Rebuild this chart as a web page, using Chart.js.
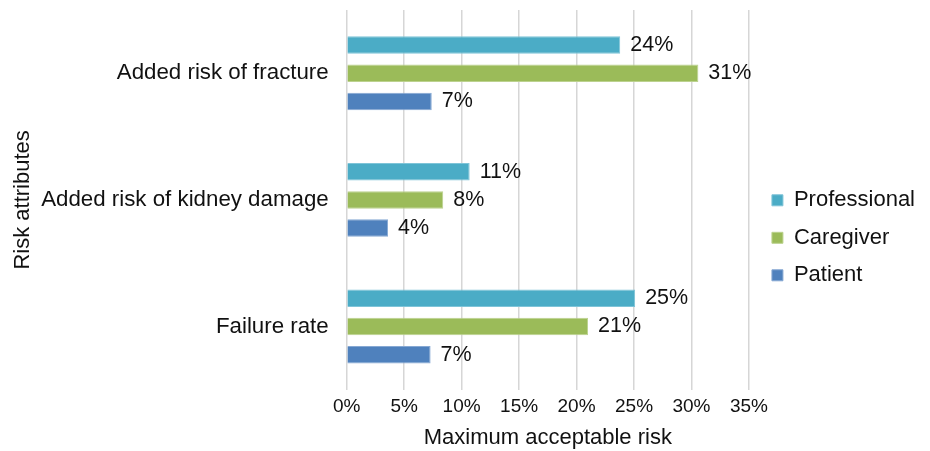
<!DOCTYPE html>
<html>
<head>
<meta charset="utf-8">
<script src="https://cdn.jsdelivr.net/npm/chart.js@4"></script>
<style>
  html, body { margin: 0; padding: 0; background: #fff; }
  #wrap { width: 930px; height: 451px; }
</style>
</head>
<body>
<div id="wrap"><canvas id="riskChart"></canvas></div>
<script>
const categories = ["Added risk of fracture", "Added risk of kidney damage", "Failure rate"];
const professional = [23.8, 10.7, 25.1];
const caregiver = [30.6, 8.4, 21.0];
const patient = [7.4, 3.6, 7.3];
const xMin = 0;
const xMax = 35;
const xStep = 5;

const font = '"Liberation Sans", Arial, sans-serif';
const textColor = "#111";

// writes the "24%" style labels just right of each bar
const valueLabels = {
  id: "valueLabels",
  afterDatasetsDraw(chart) {
    const ctx = chart.ctx;
    ctx.save();
    ctx.font = "21.5px " + font;
    ctx.fillStyle = textColor;
    ctx.textAlign = "left";
    ctx.textBaseline = "middle";
    chart.data.datasets.forEach((ds, i) => {
      chart.getDatasetMeta(i).data.forEach((bar, j) => {
        ctx.fillText(Math.round(ds.data[j]) + "%", bar.x + 10, bar.y);
      });
    });
    ctx.restore();
  },
};

const data = {
  labels: categories,
  datasets: [
    {
      label: "Professional",
      data: professional,
      backgroundColor: "#4BACC6",
      borderColor: "#7fc4d8",
      borderWidth: 1,
    },
    {
      label: "Caregiver",
      data: caregiver,
      backgroundColor: "#9BBB59",
      borderColor: "#bcd28f",
      borderWidth: 1,
    },
    {
      label: "Patient",
      data: patient,
      backgroundColor: "#4F81BD",
      borderColor: "#86a8d3",
      borderWidth: 1,
    },
  ],
};

const config = {
  type: "bar",
  data: data,
  plugins: [valueLabels],
  options: {
    indexAxis: "y",
    responsive: true,
    maintainAspectRatio: false,
    animation: false,
    categoryPercentage: 0.668,
    barPercentage: 0.62,
    layout: { padding: { top: 10, right: 5, bottom: 0, left: 0 } },
    plugins: {
      tooltip: { enabled: false },
      legend: {
        position: "right",
        maxWidth: 300,
        title: { display: true, text: " ", font: { size: 8 }, padding: { top: 2.5, bottom: 2.5 } },
        labels: {
          boxWidth: 11,
          boxHeight: 11,
          padding: 15.5,
          color: textColor,
          font: { family: font, size: 22 },
        },
      },
    },
    scales: {
      x: {
        min: xMin,
        max: xMax,
        grid: { color: "#d6d6d6", lineWidth: 1.5, drawTicks: false },
        border: { display: false },
        ticks: {
          stepSize: xStep,
          padding: 6,
          color: textColor,
          font: { family: font, size: 19 },
          callback: (v) => v + "%",
        },
        title: {
          display: true,
          text: "Maximum acceptable risk",
          color: textColor,
          font: { family: font, size: 22 },
          padding: { top: 0, bottom: 0 },
        },
      },
      y: {
        grid: { display: false },
        border: { display: false },
        ticks: {
          padding: 10,
          color: textColor,
          font: { family: font, size: 22.3 },
        },
        title: {
          display: true,
          text: "Risk attributes",
          color: textColor,
          font: { family: font, size: 22 },
          padding: { top: 10, bottom: 12.6 },
        },
        afterFit: (s) => {
          s.width = 346.7;
          s.paddingTop = 0;
          s.paddingBottom = 0;
        },
      },
      // empty spacer between plot and legend
      gap: {
        type: "linear",
        axis: "y",
        position: "right",
        grid: { display: false },
        border: { display: false },
        ticks: { display: false },
        afterFit: (s) => {
          s.width = 7.5;
          s.paddingTop = 0;
          s.paddingBottom = 0;
        },
      },
    },
  },
};

const myChart = new Chart(document.getElementById("riskChart"), config);
</script>
</body>
</html>
